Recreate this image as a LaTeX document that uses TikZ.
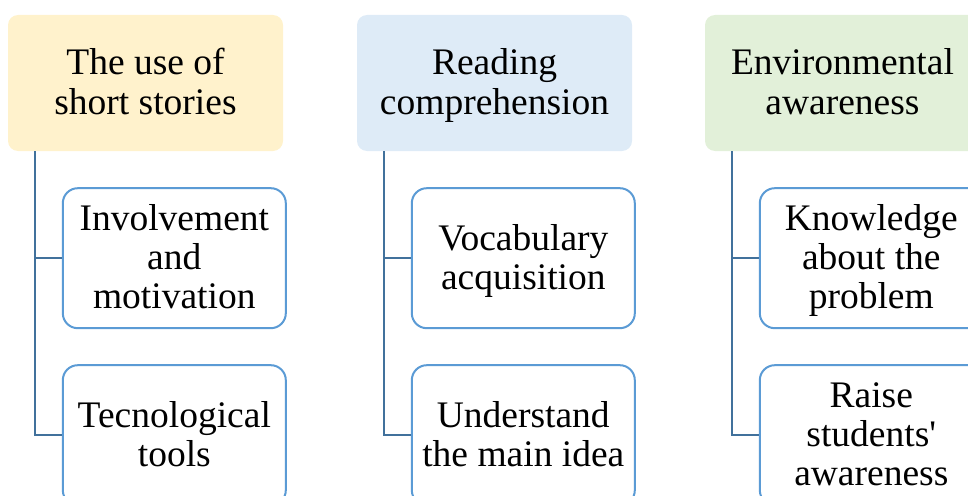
\documentclass[tikz,border=0pt]{standalone}
\usepackage{fontspec}
\setmainfont{Liberation Serif}
\usetikzlibrary{positioning}

\definecolor{headyellow}{HTML}{FFF2CC}
\definecolor{headblue}{HTML}{DEEBF7}
\definecolor{headgreen}{HTML}{E2F0D9}
\definecolor{itemline}{HTML}{5B9BD5}
\definecolor{linkline}{HTML}{41719C}

\newcommand\topstrut{\rule{0pt}{31.5pt}}
\newcommand\botstrut{\rule[-8.5pt]{0pt}{8.5pt}}

\begin{document}
\begin{tikzpicture}[x=1pt,y=1pt]
			\tikzstyle{head}=[rectangle,rounded corners=10pt,minimum width=275pt,minimum height=136pt,align=center,font=\fontsize{37.5}{40}\selectfont,inner sep=0pt]
			\tikzstyle{item}=[rectangle,rounded corners=15pt,draw=itemline,line width=2pt,fill=white,minimum width=223pt,minimum height=140pt,align=center,font=\fontsize{37.5}{39}\selectfont,inner sep=0pt,anchor=north west]
			\tikzstyle{link}=[draw=linkline,line width=2.5pt]
			
			\useasboundingbox[clip] (0,0) rectangle (968,-495);
			
			% headers
			\node[head,fill=headyellow] (use) at (145.5,-83) {\topstrut The use of\\short stories\botstrut};
			\node[head,fill=headblue] (read) at (494.5,-83) {\topstrut Reading\\comprehension\botstrut};
			\node[head,fill=headgreen] (env) at (842.5,-83) {\topstrut Environmental\\awareness\botstrut};
			
			% items
			\node[item] (invol) at ([xshift=54pt,yshift=-36pt]use.south west) {\topstrut Involvement\\and\\motivation\botstrut};
			\node[item,below=35pt of invol.south west,anchor=north west] (tools) {\topstrut Tecnological\\tools\botstrut};
			\node[item] (vocab) at ([xshift=54pt,yshift=-36pt]read.south west) {\topstrut Vocabulary\\acquisition\botstrut};
			\node[item,below=35pt of vocab.south west,anchor=north west] (idea) {\topstrut Understand\\the main idea\botstrut};
			\node[item] (know) at ([xshift=54pt,yshift=-36pt]env.south west) {\topstrut Knowledge\\about the\\problem\botstrut};
			\node[item,below=35pt of know.south west,anchor=north west] (raise) {\topstrut Raise\\students\textquotesingle\\awareness\botstrut};
			
			% links
			\foreach \h/\a/\b in {use/invol/tools,read/vocab/idea,env/know/raise}{
				\draw[link] ([xshift=27pt]\h.south west) |- (\a.west);
				\draw[link] ([xshift=27pt]\h.south west) |- (\b.west);
			}
\end{tikzpicture}
\end{document}
